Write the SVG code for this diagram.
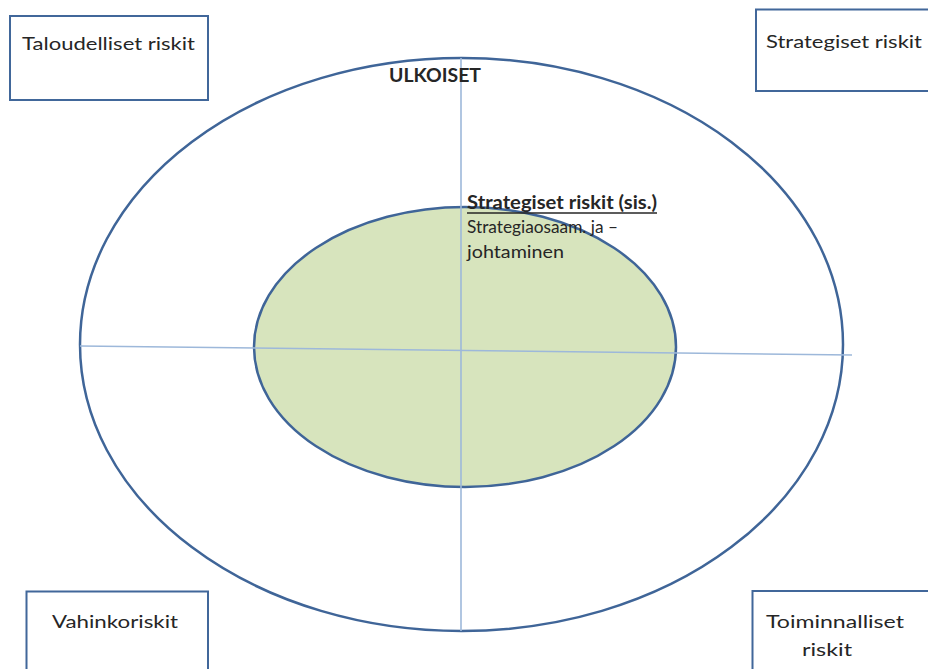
<svg xmlns="http://www.w3.org/2000/svg" width="928" height="669" viewBox="0 0 928 669">
  <style>
    .box { fill: #ffffff; stroke: #41679a; stroke-width: 2; }
    .ring { fill: none; stroke: #3f6598; stroke-width: 2.5; }
    .core { fill: #d7e4bd; stroke: #3f6598; stroke-width: 2.5; }
    .axis { stroke: #9db8da; stroke-width: 1.6; fill: none; }
    text { font-family: "Lato", "Open Sans", "Liberation Sans", sans-serif; font-size: 18px; fill: #262626; }
    .bold { font-weight: bold; }
  </style>

  <rect width="928" height="669" fill="#ffffff"/>

  <!-- outer ring: external risks -->
  <g id="ulkoiset">
    <ellipse class="ring" cx="461.5" cy="344.5" rx="381.5" ry="286.5"/>
  </g>

  <!-- inner core: internal strategic risks -->
  <g id="sisaiset">
    <ellipse class="core" cx="465" cy="347" rx="211" ry="140"/>
  </g>

  <!-- quadrant axes -->
  <g id="axes">
    <line class="axis" x1="461" y1="58" x2="461" y2="631"/>
    <line class="axis" x1="80" y1="346" x2="852" y2="355"/>
  </g>

  <g id="ulkoiset-label">
    <text class="bold" x="389" y="82" textLength="92" lengthAdjust="spacingAndGlyphs">ULKOISET</text>
  </g>

  <g id="sisaiset-label">
    <text class="bold" x="467" y="209" textLength="190" lengthAdjust="spacingAndGlyphs">Strategiset riskit (sis.)</text>
    <line x1="467" y1="213" x2="657" y2="213" stroke="#262626" stroke-width="1.3"/>
    <text x="467" y="233" textLength="151" lengthAdjust="spacingAndGlyphs">Strategiaosaam. ja –</text>
    <text x="467" y="258" textLength="97" lengthAdjust="spacingAndGlyphs">johtaminen</text>
  </g>

  <g id="taloudelliset">
    <rect class="box" x="10" y="16" width="198" height="84"/>
    <text x="22" y="50" textLength="173" lengthAdjust="spacingAndGlyphs">Taloudelliset riskit</text>
  </g>

  <g id="strategiset">
    <rect class="box" x="756" y="9.5" width="180" height="81.5"/>
    <text x="766" y="48" textLength="156" lengthAdjust="spacingAndGlyphs">Strategiset riskit</text>
  </g>

  <g id="vahinkoriskit">
    <rect class="box" x="26.5" y="591.5" width="181.5" height="90"/>
    <text x="52" y="628" textLength="126" lengthAdjust="spacingAndGlyphs">Vahinkoriskit</text>
  </g>

  <g id="toiminnalliset">
    <rect class="box" x="752.5" y="591" width="190" height="90"/>
    <text x="766" y="628" textLength="138" lengthAdjust="spacingAndGlyphs">Toiminnalliset</text>
    <text x="802" y="656" textLength="50" lengthAdjust="spacingAndGlyphs">riskit</text>
  </g>
</svg>
